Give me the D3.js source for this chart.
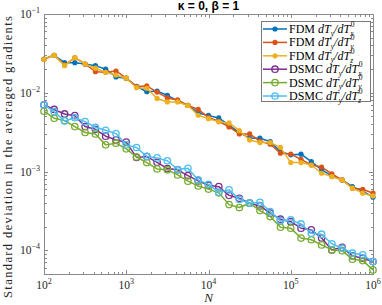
<!DOCTYPE html>
<html><head><meta charset="utf-8">
<script src="https://cdn.jsdelivr.net/npm/d3@7"></script>
<style>body{margin:0;background:#fff}svg{display:block}</style>
</head><body>
<svg id="c" width="382" height="305"></svg>
<script>
const N = [100,133,178,237,316,422,562,750,1000,1334,1778,2371,3162,4217,5623,7499,10000,13335,17783,23714,31623,42170,56234,74989,100000,133352,177828,237137,316228,421697,562341,749894,1000000];
const fdmX = [0.0268,0.0299,0.0241,0.0241,0.0232,0.0221,0.0199,0.0159,0.0153,0.0121,0.0103,0.0105,0.00929,0.00787,0.00690,0.00555,0.00515,0.00479,0.00385,0.00312,0.00265,0.00265,0.00240,0.00179,0.00163,0.00166,0.00134,0.00105,0.000879,0.000782,0.000643,0.000562,0.000472];
const fdmY = [0.0266,0.0299,0.0225,0.0279,0.0232,0.0185,0.0182,0.0189,0.0153,0.0120,0.0122,0.0102,0.00859,0.00811,0.00690,0.00614,0.00486,0.00435,0.00368,0.00300,0.00300,0.00243,0.00222,0.00171,0.00167,0.00143,0.00121,0.00114,0.000933,0.000782,0.000614,0.000596,0.000531];
const fdmZ = [0.0266,0.0299,0.0221,0.0279,0.0232,0.0205,0.0182,0.0168,0.0153,0.0116,0.0114,0.00847,0.00764,0.00764,0.00690,0.00518,0.00469,0.00427,0.00414,0.00330,0.00252,0.00233,0.00233,0.00203,0.00130,0.00130,0.00121,0.000951,0.000861,0.000782,0.000614,0.000531,0.000490];
const dsmcX = [0.00700,0.00614,0.00538,0.00512,0.00372,0.00344,0.00281,0.00252,0.00236,0.00151,0.00155,0.00131,0.00109,0.00105,0.000887,0.000760,0.000670,0.000643,0.000498,0.000458,0.000396,0.000366,0.000296,0.000248,0.000231,0.000191,0.000182,0.000143,0.000101,0.000109,0.0000849,0.0000794,0.0000720];
const dsmcY = [0.00582,0.00475,0.00443,0.00372,0.00313,0.00300,0.00218,0.00229,0.00194,0.00153,0.00130,0.00108,0.00105,0.000906,0.000755,0.000656,0.000598,0.000536,0.000380,0.000349,0.000396,0.000319,0.000268,0.000196,0.000191,0.000143,0.000136,0.000117,0.000101,0.0000990,0.0000771,0.0000740,0.0000564];
const dsmcZ = [0.00700,0.00575,0.00439,0.00482,0.00430,0.00365,0.00334,0.00303,0.00218,0.00202,0.00156,0.00149,0.00137,0.00106,0.00110,0.000782,0.000686,0.000548,0.000585,0.000443,0.000396,0.000407,0.000310,0.000238,0.000243,0.000216,0.000165,0.000160,0.000121,0.000106,0.0000918,0.0000875,0.0000720];
const methods = ["FDM","FDM","FDM","DSMC","DSMC","DSMC"];
const components = ["x","y","z","x","y","z"];
const colors = ["#0072BD","#D95319","#EDB120","#7E2F8E","#77AC30","#4DBEEE"];
const xTickVals = [1e2,1e3,1e4,1e5,1e6];
const xTickExp = ["2","3","4","5","6"];
const yTickVals = [1e-4,1e-3,1e-2,1e-1];
const yTickExp = ["\u22124","\u22123","\u22122","\u22121"];
const titleText = "\u03BA = 0, \u03B2 = 1";
const yLabel = "Standard deviation in the averaged gradients";
const xLabel = "N";

const series = [fdmX,fdmY,fdmZ,dsmcX,dsmcY,dsmcZ];
const L=44,R=373,T=14,B=274;
const x = d3.scaleLog().domain([1e2,1e6]).range([L,R]);
const y = d3.scaleLog().domain([5e-5,1e-1]).range([B,T]);
const svg = d3.select("#c");
svg.append("rect").attr("width",382).attr("height",305).attr("fill","#fff");
const axCol="#8a8a8a", txtCol="#262626";
const serif="'Liberation Serif','Times New Roman',serif";

const xMinor=[], yMinor=[];
for(let e=2;e<6;e++) for(let m=2;m<10;m++) xMinor.push(m*Math.pow(10,e));
for(let e=-5;e<-1;e++) for(let m=2;m<10;m++){const v=m*Math.pow(10,e); if(v>=5e-5&&v<=0.1) yMinor.push(v);}

const axes = svg.append("g").attr("shape-rendering","crispEdges");
function tickAxis(axisFn, scale, vals, size, tr){
  const g=axes.append("g").attr("transform",tr).call(axisFn(scale).tickValues(vals).tickSizeInner(-size).tickSizeOuter(0).tickFormat(""));
  g.select(".domain").remove();
  g.selectAll("line").attr("stroke",axCol);
}
[[d3.axisBottom,`translate(0,${B})`],[d3.axisTop,`translate(0,${T})`]].forEach(([f,tr])=>{
  tickAxis(f,x,xTickVals,4,tr); tickAxis(f,x,xMinor,2.5,tr);
});
[[d3.axisLeft,`translate(${L},0)`],[d3.axisRight,`translate(${R},0)`]].forEach(([f,tr])=>{
  tickAxis(f,y,yTickVals,4,tr); tickAxis(f,y,yMinor,2.5,tr);
});
axes.append("rect").attr("x",L).attr("y",T).attr("width",R-L).attr("height",B-T)
  .attr("fill","none").attr("stroke",axCol);

xTickVals.forEach((v,i)=>{
  const t=svg.append("text").attr("x",x(v)).attr("y",B+15).attr("text-anchor","middle")
    .attr("font-family",serif).attr("font-size",11.5).attr("fill",txtCol);
  t.append("tspan").text("10");
  t.append("tspan").attr("dy",-5).attr("font-size",8).text(xTickExp[i]);
});
yTickVals.forEach((v,i)=>{
  const t=svg.append("text").attr("x",L-4).attr("y",y(v)+4).attr("text-anchor","end")
    .attr("font-family",serif).attr("font-size",11.5).attr("fill",txtCol);
  t.append("tspan").text("10");
  t.append("tspan").attr("dy",-5).attr("font-size",8).text(yTickExp[i]);
});

const line=d3.line().x(d=>x(d[0])).y(d=>y(d[1]));
const plot=svg.append("g");
series.forEach((s,i)=>{
  const pts=N.map((n,j)=>[n,s[j]]);
  const g=plot.append("g");
  g.append("path").datum(pts).attr("d",line).attr("fill","none").attr("stroke",colors[i])
    .attr("stroke-width",1.5).attr("stroke-linejoin","round");
  if(i<3){
    g.selectAll("circle").data(pts).join("circle").attr("cx",d=>x(d[0])).attr("cy",d=>y(d[1]))
      .attr("r",2.6).attr("fill",colors[i]);
  } else {
    g.selectAll("circle").data(pts).join("circle").attr("cx",d=>x(d[0])).attr("cy",d=>y(d[1]))
      .attr("r",3.2).attr("fill","none").attr("stroke",colors[i]).attr("stroke-width",1.3);
  }
});

svg.append("text").attr("x",(L+R)/2).attr("y",10).attr("text-anchor","middle")
  .attr("font-family","'Liberation Sans',Arial,sans-serif").attr("font-weight","bold")
  .attr("font-size",12).attr("fill","#000").text(titleText);

svg.append("text").attr("transform",`translate(12,157) rotate(-90)`).attr("text-anchor","middle")
  .attr("font-family",serif).attr("font-size",12.5).attr("fill",txtCol)
  .attr("textLength",282).attr("lengthAdjust","spacing").text(yLabel);
svg.append("text").attr("x",(L+R)/2).attr("y",302).attr("text-anchor","middle")
  .attr("font-family",serif).attr("font-style","italic").attr("font-size",13).attr("fill",txtCol).text(xLabel);

// legend
const lg=svg.append("g");
lg.append("rect").attr("x",261.5).attr("y",21.5).attr("width",109).attr("height",80)
  .attr("fill","#fff").attr("stroke","#7a7a7a").attr("shape-rendering","crispEdges");
methods.forEach((m,i)=>{
  const ry=29+i*13.4;
  lg.append("line").attr("x1",263).attr("x2",287).attr("y1",ry).attr("y2",ry).attr("stroke",colors[i]).attr("stroke-width",1.5);
  const c=lg.append("circle").attr("cx",275).attr("cy",ry);
  if(i<3) c.attr("r",2.6).attr("fill",colors[i]);
  else c.attr("r",3.2).attr("fill","none").attr("stroke",colors[i]).attr("stroke-width",1.3);
  const t=lg.append("text").attr("x",289).attr("y",ry+4).attr("font-family",serif).attr("font-size",12).attr("fill","#000");
  t.append("tspan").text(m+" ");
  t.append("tspan").attr("font-style","italic").text("dT");
  t.append("tspan").attr("font-style","italic").attr("font-size",7.5).attr("dy",2.5).text("y");
  t.append("tspan").attr("font-style","italic").attr("dy",-2.5).text("/dT");
  const w=t.node().getComputedTextLength();
  lg.append("text").attr("x",289+w+0.2).attr("y",ry+6.8).attr("font-family",serif).attr("font-style","italic")
    .attr("font-size",7.5).attr("fill","#000").text(components[i]);
  lg.append("text").attr("x",289+w+0.6).attr("y",ry-2.2).attr("font-family",serif)
    .attr("font-size",7.5).attr("fill","#000").text("0");
});
</script>
</body></html>
